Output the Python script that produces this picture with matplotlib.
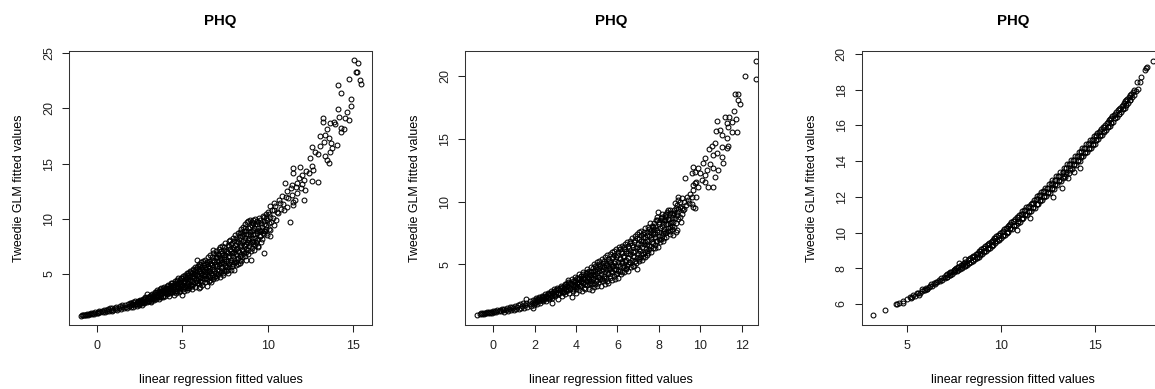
# -*- coding: utf-8 -*-
# Description: PHQ - Tweedie GLM fitted values vs. linear regression fitted values
# ============================================

# Imports
import matplotlib
matplotlib.use("Agg")
import matplotlib.pyplot as plt
# ============================================

# Data
# ============================================
# Panel 1: (linear regression fitted, Tweedie GLM fitted)
phq1_pts = [
    (-0.92, 1.24), (-0.85, 1.28), (-0.8, 1.3), (-0.72, 1.27), (-0.68, 1.33), (-0.6, 1.3), (-0.58, 1.38),
    (-0.5, 1.32), (-0.45, 1.42), (-0.4, 1.36), (-0.35, 1.45), (-0.28, 1.38), (-0.2, 1.46), (-0.15, 1.41),
    (-0.1, 1.52), (0.0, 1.45), (0.05, 1.58), (0.1, 1.5), (0.15, 1.62), (0.22, 1.52), (0.3, 1.66),
    (0.35, 1.57), (0.4, 1.72), (0.48, 1.6), (0.55, 1.75), (0.6, 1.66), (0.65, 1.82), (0.72, 1.68),
    (0.78, 1.88), (0.85, 1.76), (0.9, 1.92), (0.88, 1.64), (0.98, 1.72), (1.05, 1.95), (1.1, 1.84),
    (1.15, 2.02), (1.2, 1.78), (1.28, 1.9), (1.35, 2.1), (1.4, 1.82), (1.45, 2.0), (1.5, 2.18),
    (1.58, 1.95), (1.65, 2.22), (1.7, 2.05), (1.75, 1.9), (1.8, 2.3), (1.88, 2.12), (1.95, 2.38),
    (2.0, 2.0), (2.05, 2.25), (2.1, 2.45), (2.18, 2.15), (2.22, 2.52), (2.28, 2.32), (2.35, 2.08),
    (2.4, 2.6), (2.42, 2.42), (2.48, 2.25), (2.52, 2.68), (2.58, 2.48), (2.62, 2.2), (2.68, 2.78),
    (2.72, 2.55), (2.78, 2.35), (2.82, 2.9), (2.88, 2.65), (2.92, 3.2), (2.95, 2.42), (3.0, 2.85),
    (3.05, 2.55), (3.1, 3.05), (3.15, 2.75), (3.2, 2.45), (3.25, 3.2), (3.28, 2.92), (3.32, 2.62),
    (3.38, 3.35), (3.42, 3.05), (3.48, 2.75), (3.5, 3.55), (3.55, 3.2), (3.58, 2.9), (3.62, 2.7),
    (3.66, 3.45), (3.7, 3.1), (3.75, 3.7), (3.78, 2.88), (3.82, 3.3), (3.85, 3.55), (3.9, 2.95),
    (3.95, 3.8), (4.0, 3.0), (4.02, 3.42), (4.05, 3.62), (4.1, 3.15), (4.12, 3.9), (4.15, 3.3),
    (4.2, 3.05), (4.25, 3.55), (4.28, 4.05), (4.29, 3.24), (4.32, 3.8), (4.38, 3.35), (4.4, 4.2),
    (4.45, 3.65), (4.5, 3.1), (4.52, 3.95), (4.55, 3.45), (4.6, 4.35), (4.62, 3.7), (4.65, 3.25),
    (4.7, 4.1), (4.72, 4.5), (4.75, 3.85), (4.8, 3.35), (4.85, 4.25), (4.88, 3.6), (4.92, 4.65),
    (4.97, 3.1), (5.0, 4.0), (5.02, 3.8), (5.05, 4.8), (5.08, 4.4), (5.1, 3.45), (5.12, 4.15),
    (5.15, 4.95), (5.2, 3.7), (5.22, 4.55), (5.26, 3.55), (5.28, 4.3), (5.32, 5.05), (5.35, 3.95),
    (5.38, 4.75), (5.42, 3.75), (5.45, 4.5), (5.48, 5.2), (5.5, 4.05), (5.55, 4.85), (5.58, 3.6),
    (5.6, 5.35), (5.62, 4.3), (5.68, 5.0), (5.7, 4.65), (5.72, 5.6), (5.75, 3.85), (5.78, 4.45),
    (5.8, 5.5), (5.85, 6.27), (5.85, 4.15), (5.88, 4.9), (5.9, 5.75), (5.92, 4.6), (5.95, 3.75),
    (5.98, 5.25), (6.0, 5.95), (6.04, 3.85), (6.05, 4.4), (6.08, 5.1), (6.1, 6.1), (6.12, 4.75),
    (6.15, 5.6), (6.18, 4.05), (6.2, 5.35), (6.22, 6.2), (6.25, 4.95), (6.28, 5.8), (6.3, 4.25),
    (6.32, 5.15), (6.35, 6.3), (6.38, 4.6), (6.4, 5.5), (6.43, 3.94), (6.45, 6.05), (6.48, 4.85),
    (6.5, 5.75), (6.52, 6.5), (6.55, 4.35), (6.58, 5.3), (6.6, 4.7), (6.62, 5.9), (6.65, 6.7),
    (6.68, 5.05), (6.7, 4.3), (6.72, 6.25), (6.75, 5.5), (6.78, 4.55), (6.8, 6.9), (6.82, 7.18),
    (6.85, 5.25), (6.88, 6.05), (6.9, 4.85), (6.92, 5.7), (6.95, 6.5), (6.98, 7.05), (7.0, 4.6),
    (7.02, 5.4), (7.05, 6.2), (7.08, 6.85), (7.1, 5.0), (7.12, 5.95), (7.15, 7.3), (7.18, 4.75),
    (7.2, 7.42), (7.22, 6.45), (7.25, 5.2), (7.28, 6.0), (7.3, 6.9), (7.32, 5.55), (7.35, 7.5),
    (7.38, 4.95), (7.4, 5.06), (7.42, 6.4), (7.45, 7.2), (7.48, 5.8), (7.5, 6.7), (7.52, 7.8),
    (7.55, 5.3), (7.58, 6.15), (7.6, 7.0), (7.62, 5.6), (7.65, 7.6), (7.68, 5.1), (7.7, 6.5),
    (7.72, 8.0), (7.75, 5.9), (7.78, 7.3), (7.8, 8.1), (7.82, 6.3), (7.85, 5.4), (7.88, 6.9),
    (7.9, 7.8), (7.92, 5.7), (7.95, 8.3), (7.98, 6.6), (8.0, 5.4), (8.02, 7.25), (8.05, 6.1),
    (8.08, 8.5), (8.1, 7.6), (8.12, 5.8), (8.15, 6.85), (8.18, 8.0), (8.2, 6.35), (8.22, 7.4),
    (8.25, 8.7), (8.28, 5.9), (8.3, 7.0), (8.32, 8.2), (8.35, 6.6), (8.38, 5.97), (8.38, 8.85),
    (8.4, 7.8), (8.42, 6.2), (8.45, 9.1), (8.48, 7.2), (8.5, 8.4), (8.52, 6.5), (8.55, 9.3),
    (8.58, 7.6), (8.6, 8.9), (8.62, 6.9), (8.65, 8.1), (8.68, 9.5), (8.7, 7.3), (8.72, 6.3),
    (8.75, 8.6), (8.78, 9.7), (8.8, 7.9), (8.82, 6.8), (8.85, 9.2), (8.87, 9.76), (8.9, 8.3),
    (8.92, 7.5), (8.95, 9.9), (8.98, 8.8), (9.0, 6.27), (9.02, 7.1), (9.05, 9.4), (9.08, 8.0),
    (9.1, 9.75), (9.12, 7.7), (9.15, 8.6), (9.16, 9.85), (9.2, 7.2), (9.22, 9.2), (9.25, 8.3),
    (9.28, 10.0), (9.3, 7.9), (9.35, 9.5), (9.38, 8.9), (9.4, 7.5), (9.45, 7.48), (9.48, 9.0),
    (9.5, 10.1), (9.52, 8.4), (9.55, 8.4), (9.58, 9.6), (9.6, 7.9), (9.65, 9.3), (9.7, 10.3),
    (9.72, 8.7), (9.75, 6.88), (9.75, 10.2), (9.78, 8.9), (9.8, 9.8), (9.85, 8.9), (9.88, 10.4),
    (9.9, 9.4), (9.94, 9.9), (9.98, 8.5), (10.0, 10.6), (10.05, 9.1), (10.1, 10.2), (10.14, 9.0),
    (10.14, 8.4), (10.14, 11.12), (10.2, 9.7), (10.23, 10.82),
    (10.3, 10.1), (10.35, 11.4), (10.43, 11.12), (10.5, 9.9), (10.55, 10.6), (10.62, 10.5),
    (10.65, 11.7), (10.72, 11.42), (10.8, 10.9), (10.82, 12.03), (10.9, 11.3), (10.92, 10.82),
    (11.0, 13.24), (11.05, 12.0), (11.1, 12.5), (11.15, 11.1), (11.2, 11.9), (11.3, 9.7),
    (11.35, 12.8), (11.4, 13.1), (11.4, 12.2), (11.45, 11.5), (11.5, 14.6), (11.5, 14.15),
    (11.5, 11.27), (11.6, 11.73), (11.65, 12.9), (11.7, 13.24), (11.7, 12.33), (11.8, 13.7),
    (11.89, 14.7), (11.95, 12.8), (11.99, 14.0), (11.99, 13.15), (12.09, 13.55), (12.09, 11.73),
    (12.18, 12.64), (12.25, 14.3), (12.38, 14.15), (12.48, 15.5), (12.57, 16.5), (12.57, 14.75),
    (12.57, 13.4), (12.67, 14.45), (12.77, 16.1), (12.96, 15.9), (12.96, 13.3), (13.06, 17.5),
    (13.06, 16.6), (13.2, 19.15), (13.2, 18.8), (13.26, 17.0), (13.35, 17.64), (13.35, 15.7),
    (13.45, 18.15), (13.45, 15.36), (13.55, 17.3), (13.55, 15.06), (13.65, 18.7), (13.65, 16.1),
    (13.68, 16.9), (13.74, 16.4), (13.84, 18.76), (13.94, 18.6), (14.04, 16.7), (14.13, 22.1),
    (14.13, 19.97), (14.19, 19.24), (14.27, 21.4), (14.27, 18.24), (14.27, 17.9), (14.46, 18.1),
    (14.52, 19.15), (14.62, 19.7), (14.72, 22.7), (14.72, 19.0), (14.85, 20.9), (14.85, 20.27),
    (15.05, 24.36), (15.17, 23.33), (15.2, 23.3), (15.3, 24.15), (15.36, 22.6), (15.44, 22.24),
]
# Panel 1, extra points filling the dense core of the band
phq1_core = [
    (2.03, 2.18), (2.03, 2.36), (2.13, 2.05), (2.13, 2.3), (2.33, 2.25), (2.33, 2.45), (2.45, 2.15),
    (2.45, 2.55), (2.55, 2.35), (2.55, 2.6), (2.65, 2.4), (2.65, 2.65), (2.75, 2.45), (2.75, 2.7),
    (2.85, 2.5), (2.85, 2.8), (2.97, 2.6), (2.97, 2.95), (3.07, 2.7), (3.07, 2.95), (3.17, 2.6),
    (3.17, 3.1), (3.27, 2.75), (3.27, 3.05), (3.37, 2.85), (3.37, 3.15), (3.47, 2.95), (3.47, 3.35),
    (3.57, 3.05), (3.57, 3.4), (3.67, 2.95), (3.67, 3.25), (3.67, 3.6), (3.77, 3.15), (3.77, 3.45),
    (3.87, 3.05), (3.87, 3.4), (3.87, 3.7), (3.97, 3.25), (3.97, 3.55), (4.07, 3.3), (4.07, 3.75),
    (4.17, 3.45), (4.17, 3.75), (4.17, 4.0), (4.27, 3.4), (4.27, 3.7), (4.37, 3.55), (4.37, 3.95),
    (4.37, 4.15), (4.47, 3.35), (4.47, 3.8), (4.47, 4.05), (4.57, 3.6), (4.57, 4.2), (4.67, 3.5),
    (4.67, 3.95), (4.67, 4.35), (4.77, 3.7), (4.77, 4.15), (4.77, 4.6), (4.87, 3.5), (4.87, 3.9),
    (4.87, 4.45), (4.95, 3.75), (4.95, 4.2), (4.95, 4.6), (5.05, 3.6), (5.05, 4.25), (5.05, 4.6),
    (5.15, 3.85), (5.15, 4.4), (5.15, 4.7), (5.25, 4.0), (5.25, 4.7), (5.25, 5.1), (5.35, 3.75),
    (5.35, 4.2), (5.35, 4.55), (5.35, 4.95), (5.45, 4.05), (5.45, 4.7), (5.45, 5.3), (5.55, 3.9),
    (5.55, 4.35), (5.55, 5.1), (5.65, 4.1), (5.65, 4.8), (5.65, 5.45), (5.75, 4.25), (5.75, 5.0),
    (5.75, 5.3), (5.85, 4.4), (5.85, 5.15), (5.85, 5.6), (5.95, 4.1), (5.95, 4.8), (5.95, 5.45),
    (6.05, 4.6), (6.05, 5.3), (6.05, 5.8), (6.15, 4.3), (6.15, 4.95), (6.15, 5.45), (6.25, 4.55),
    (6.25, 5.25), (6.25, 6.0), (6.35, 4.8), (6.35, 5.6), (6.35, 5.0), (6.45, 4.55), (6.45, 5.2),
    (6.45, 5.9), (6.55, 5.0), (6.55, 5.55), (6.55, 6.2), (6.65, 4.5), (6.65, 5.3), (6.65, 6.0),
    (6.75, 4.9), (6.75, 5.8), (6.75, 6.5), (6.85, 5.5), (6.85, 6.3), (6.85, 4.7), (6.95, 5.1),
    (6.95, 5.9), (6.95, 6.8), (7.05, 4.85), (7.05, 5.7), (7.05, 6.5), (7.15, 5.3), (7.15, 6.15),
    (7.15, 6.7), (7.25, 5.6), (7.25, 6.3), (7.25, 7.05), (7.35, 5.4), (7.35, 6.05), (7.35, 6.7),
    (7.45, 5.25), (7.45, 6.0), (7.45, 6.5), (7.45, 7.45), (7.55, 5.7), (7.55, 6.4), (7.55, 7.1),
    (7.65, 5.4), (7.65, 6.2), (7.65, 6.9), (7.75, 5.65), (7.75, 6.6), (7.75, 7.5), (7.85, 6.05),
    (7.85, 7.1), (7.85, 7.7), (7.95, 5.9), (7.95, 6.9), (7.95, 7.45), (8.05, 6.35), (8.05, 7.0),
    (8.05, 7.95), (8.15, 6.1), (8.15, 7.3), (8.15, 8.3), (8.25, 6.45), (8.25, 7.05), (8.25, 7.9),
    (8.35, 6.3), (8.35, 7.5), (8.35, 8.45), (8.45, 6.8), (8.45, 7.6), (8.45, 8.7), (8.55, 7.1),
    (8.55, 8.0), (8.55, 8.6), (8.65, 6.6), (8.65, 7.5), (8.65, 8.3), (8.65, 9.2), (8.75, 7.0),
    (8.75, 7.7), (8.75, 8.9), (8.85, 7.2), (8.85, 8.1), (8.85, 8.6), (8.95, 7.8), (8.95, 8.5),
    (8.95, 9.3), (9.05, 7.4), (9.05, 8.3), (9.05, 8.9), (9.15, 7.9), (9.15, 9.0), (9.15, 9.6),
    (9.25, 7.6), (9.25, 8.6), (9.25, 9.5), (9.35, 8.1), (9.35, 8.7), (9.35, 9.8), (9.45, 8.2),
    (9.45, 9.2), (9.45, 9.7), (9.55, 8.9), (9.55, 9.9), (9.65, 8.2), (9.65, 9.0), (9.8, 8.6),
    (9.8, 9.5), (9.9, 9.1), (9.9, 10.1), (10.05, 9.6), (10.05, 10.4), (10.35, 9.4), (10.35, 10.8),
]

# Panel 2
phq2_pts = [
    (-0.8, 0.96), (-0.65, 1.02), (-0.6, 1.08), (-0.55, 1.04), (-0.5, 1.1), (-0.45, 1.05), (-0.4, 1.12),
    (-0.35, 1.08), (-0.3, 1.16), (-0.25, 1.1), (-0.2, 1.18), (-0.15, 1.12), (-0.1, 1.22), (-0.05, 1.14),
    (0.0, 1.25), (0.05, 1.18), (0.1, 1.3), (0.15, 1.2), (0.2, 1.32), (0.25, 1.25), (0.3, 1.38),
    (0.35, 1.26), (0.4, 1.42), (0.45, 1.32), (0.5, 1.46), (0.5, 1.22), (0.6, 1.35), (0.65, 1.5),
    (0.7, 1.28), (0.75, 1.42), (0.8, 1.58), (0.85, 1.38), (0.9, 1.62), (0.95, 1.48), (1.0, 1.35),
    (1.05, 1.7), (1.1, 1.45), (1.15, 1.6), (1.2, 1.75), (1.25, 1.42), (1.3, 1.82), (1.35, 1.55),
    (1.4, 1.7), (1.45, 1.88), (1.5, 1.5), (1.56, 2.23), (1.55, 1.75), (1.6, 1.95), (1.65, 1.6),
    (1.7, 1.85), (1.75, 2.05), (1.8, 1.68), (1.85, 1.95), (1.9, 2.15), (1.9, 1.55), (1.95, 1.78),
    (2.0, 2.0), (2.05, 2.3), (2.1, 1.85), (2.15, 2.12), (2.2, 2.4), (2.25, 1.95), (2.3, 2.22),
    (2.35, 2.5), (2.4, 2.05), (2.45, 2.35), (2.5, 2.62), (2.55, 2.1), (2.6, 2.45), (2.65, 2.75),
    (2.7, 2.25), (2.75, 2.58), (2.8, 2.85), (2.82, 1.94), (2.85, 2.35), (2.9, 2.7), (2.95, 3.0),
    (3.0, 2.45), (3.05, 2.82), (3.1, 3.15), (3.12, 2.25), (3.15, 2.6), (3.2, 2.95), (3.25, 3.3),
    (3.3, 2.5), (3.35, 2.78), (3.4, 3.1), (3.45, 3.45), (3.48, 2.6), (3.5, 2.9), (3.55, 3.25),
    (3.6, 3.62), (3.62, 3.75), (3.65, 2.7), (3.7, 3.05), (3.75, 3.4), (3.79, 2.41), (3.8, 3.8),
    (3.85, 2.85), (3.88, 3.2), (3.9, 3.6), (3.95, 4.0), (4.0, 2.75), (4.02, 3.05), (4.05, 3.4),
    (4.1, 3.8), (4.12, 4.2), (4.15, 2.95), (4.2, 3.3), (4.22, 3.65), (4.25, 4.05), (4.3, 2.85),
    (4.32, 3.5), (4.35, 4.41), (4.38, 3.15), (4.4, 3.9), (4.45, 3.05), (4.48, 3.7), (4.5, 4.3),
    (4.52, 3.35), (4.55, 4.6), (4.6, 3.95), (4.62, 3.0), (4.65, 3.55), (4.7, 4.8), (4.72, 4.15),
    (4.75, 2.95), (4.78, 3.45), (4.8, 3.85), (4.82, 4.5), (4.85, 5.0), (4.88, 3.2), (4.9, 4.25),
    (4.95, 3.65), (4.98, 4.75), (5.0, 3.3), (5.02, 5.15), (5.05, 4.0), (5.08, 3.5), (5.1, 4.5),
    (5.12, 5.3), (5.15, 3.8), (5.18, 4.85), (5.2, 3.25), (5.22, 4.25), (5.25, 5.45), (5.28, 3.65),
    (5.3, 4.65), (5.32, 5.1), (5.35, 3.95), (5.38, 3.45), (5.4, 5.6), (5.42, 4.4), (5.45, 4.95),
    (5.48, 3.7), (5.5, 5.75), (5.52, 4.2), (5.55, 3.5), (5.58, 5.3), (5.6, 4.7), (5.62, 3.9),
    (5.65, 5.85), (5.68, 4.45), (5.72, 6.0), (5.7, 5.05), (5.75, 3.75), (5.78, 4.9), (5.8, 5.55),
    (5.82, 4.1), (5.85, 6.1), (5.88, 3.85), (5.9, 5.25), (5.92, 4.6), (5.95, 6.25), (5.98, 4.3),
    (6.0, 5.75), (6.02, 4.95), (6.05, 3.95), (6.08, 6.35), (6.1, 5.4), (6.12, 4.5), (6.15, 6.0),
    (6.18, 4.2), (6.2, 5.1), (6.22, 6.45), (6.25, 4.75), (6.28, 5.65), (6.3, 4.35), (6.32, 6.2),
    (6.35, 5.3), (6.38, 6.6), (6.4, 4.6), (6.42, 5.9), (6.45, 4.9), (6.48, 6.75), (6.5, 5.5),
    (6.52, 4.5), (6.55, 6.3), (6.58, 5.15), (6.6, 6.9), (6.62, 5.8), (6.65, 4.75), (6.68, 6.55),
    (6.7, 5.35), (6.72, 7.1), (6.75, 6.0), (6.78, 4.85), (6.8, 6.8), (6.82, 5.6), (6.85, 7.25),
    (6.88, 5.1), (6.9, 6.3), (6.93, 4.6), (6.95, 7.4), (6.98, 5.9), (7.0, 6.6), (7.02, 5.25),
    (7.05, 7.55), (7.08, 6.1), (7.1, 5.6), (7.12, 6.9), (7.15, 7.7), (7.18, 5.35), (7.2, 6.4),
    (7.22, 7.2), (7.25, 5.85), (7.28, 7.6), (7.3, 6.65), (7.32, 5.55), (7.35, 7.9), (7.38, 6.2),
    (7.41, 5.74), (7.42, 7.35), (7.45, 6.9), (7.48, 8.0), (7.5, 5.9), (7.52, 6.5), (7.55, 7.6),
    (7.57, 8.27), (7.6, 7.05), (7.62, 6.0), (7.65, 8.1), (7.68, 6.75), (7.7, 7.4), (7.72, 6.3),
    (7.75, 8.3), (7.78, 7.8), (7.8, 6.55), (7.82, 7.15), (7.85, 8.5), (7.88, 6.9), (7.9, 7.6),
    (7.92, 8.8), (7.95, 6.4), (7.97, 9.2), (8.0, 7.3), (8.02, 8.2), (8.05, 6.8), (8.08, 7.9),
    (8.1, 8.7), (8.12, 7.05), (8.13, 8.54), (8.15, 9.0), (8.18, 7.5), (8.2, 8.3), (8.22, 6.9),
    (8.25, 7.8), (8.28, 8.9), (8.3, 7.47), (8.32, 8.5), (8.35, 7.2), (8.37, 8.8), (8.4, 9.2),
    (8.42, 7.7), (8.45, 8.2), (8.46, 9.33), (8.5, 8.6), (8.52, 7.4), (8.54, 8.0), (8.56, 9.1),
    (8.6, 8.4), (8.62, 9.07), (8.65, 7.8), (8.68, 8.9), (8.7, 8.4), (8.7, 7.34), (8.74, 9.3),
    (8.78, 9.87), (8.8, 8.7), (8.82, 7.6), (8.86, 9.73), (8.86, 9.2), (8.86, 7.74), (8.9, 8.9),
    (8.94, 10.4), (8.94, 10.13), (9.0, 9.6), (9.05, 8.4), (9.1, 10.27), (9.12, 9.0), (9.18, 9.33),
    (9.2, 10.0), (9.26, 11.86), (9.3, 9.7), (9.34, 10.4), (9.4, 10.1),
    (9.45, 9.9), (9.5, 10.6), (9.58, 10.4), (9.58, 12.26), (9.6, 9.8), (9.66, 12.79), (9.66, 11.33),
    (9.66, 10.93), (9.66, 9.6), (9.74, 12.39), (9.74, 11.47), (9.74, 9.47), (9.82, 11.6),
    (9.82, 10.4), (9.9, 12.66), (9.9, 11.2), (9.98, 12.26), (10.07, 11.73), (10.15, 13.06),
    (10.23, 13.46), (10.23, 12.13), (10.23, 11.6), (10.31, 12.53), (10.39, 11.2), (10.42, 14.18),
    (10.47, 12.98), (10.55, 14.44), (10.63, 13.72), (10.63, 12.66), (10.63, 11.2), (10.71, 14.65),
    (10.71, 12.0), (10.76, 15.66), (10.79, 13.86), (10.82, 16.46), (10.87, 12.53), (10.95, 15.7),
    (11.03, 15.3), (11.03, 13.59), (11.07, 14.39), (11.11, 13.11), (11.2, 16.78), (11.28, 16.25),
    (11.28, 15.05), (11.28, 14.3), (11.36, 15.98), (11.36, 14.47), (11.39, 16.73), (11.52, 16.38),
    (11.52, 15.58), (11.65, 17.23), (11.68, 18.56), (11.72, 16.6), (11.76, 15.58), (11.84, 18.56),
    (11.84, 18.11), (11.92, 17.79), (12.16, 20.05), (12.69, 21.22), (12.69, 19.79),
]
# Panel 2, extra points filling the dense core of the band
phq2_core = [
    (2.03, 1.92), (2.03, 2.15), (2.13, 2.05), (2.13, 2.25), (2.23, 2.1), (2.23, 2.3), (2.33, 2.15),
    (2.33, 2.38), (2.43, 2.2), (2.43, 2.48), (2.53, 2.3), (2.53, 2.5), (2.63, 2.35), (2.63, 2.6),
    (2.73, 2.42), (2.73, 2.7), (2.83, 2.5), (2.83, 2.75), (2.93, 2.55), (2.93, 2.85), (3.03, 2.6),
    (3.03, 2.95), (3.13, 2.75), (3.13, 3.0), (3.23, 2.7), (3.23, 3.1), (3.33, 2.85), (3.33, 3.2),
    (3.43, 2.8), (3.43, 3.0), (3.43, 3.3), (3.53, 3.0), (3.53, 3.4), (3.63, 2.95), (3.63, 3.2),
    (3.63, 3.5), (3.73, 3.1), (3.73, 3.55), (3.83, 3.05), (3.83, 3.35), (3.83, 3.65), (3.93, 3.25),
    (3.93, 3.45), (3.93, 3.75), (4.03, 3.2), (4.03, 3.55), (4.03, 3.9), (4.13, 3.4), (4.13, 3.6),
    (4.13, 3.95), (4.23, 3.35), (4.23, 3.8), (4.23, 4.1), (4.33, 3.6), (4.33, 3.95), (4.33, 4.2),
    (4.43, 3.45), (4.43, 3.85), (4.43, 4.15), (4.53, 3.65), (4.53, 4.0), (4.53, 4.4), (4.63, 3.45),
    (4.63, 3.8), (4.63, 4.25), (4.63, 4.5), (4.73, 3.65), (4.73, 4.0), (4.73, 4.4), (4.83, 3.9),
    (4.83, 4.25), (4.83, 4.7), (4.93, 3.45), (4.93, 4.05), (4.93, 4.5), (4.93, 4.9), (5.03, 3.75),
    (5.03, 4.3), (5.03, 4.65), (5.13, 4.0), (5.13, 4.7), (5.13, 5.0), (5.23, 3.85), (5.23, 4.45),
    (5.23, 4.9), (5.33, 4.1), (5.33, 4.8), (5.33, 5.25), (5.43, 3.9), (5.43, 4.6), (5.43, 5.1),
    (5.53, 4.3), (5.53, 4.9), (5.53, 5.45), (5.63, 4.1), (5.63, 4.6), (5.63, 5.2), (5.73, 4.35),
    (5.73, 4.85), (5.73, 5.5), (5.83, 4.6), (5.83, 5.1), (5.83, 5.75), (5.93, 4.2), (5.93, 4.85),
    (5.93, 5.55), (6.03, 4.5), (6.03, 5.2), (6.03, 6.0), (6.13, 4.85), (6.13, 5.5), (6.13, 6.2),
    (6.23, 4.4), (6.23, 5.3), (6.23, 5.9), (6.33, 4.9), (6.33, 5.6), (6.33, 6.35), (6.43, 4.7),
    (6.43, 5.35), (6.43, 6.1), (6.53, 5.0), (6.53, 5.9), (6.53, 6.5), (6.63, 5.2), (6.63, 6.1),
    (6.63, 6.7), (6.73, 4.9), (6.73, 5.65), (6.73, 6.4), (6.83, 5.3), (6.83, 6.05), (6.83, 6.95),
    (6.93, 5.5), (6.93, 6.4), (6.93, 7.1), (7.03, 5.45), (7.03, 6.25), (7.03, 7.05), (7.13, 5.8),
    (7.13, 6.6), (7.13, 7.35), (7.23, 5.6), (7.23, 6.9), (7.23, 7.45), (7.33, 6.0), (7.33, 6.8),
    (7.33, 7.2), (7.43, 6.1), (7.43, 6.6), (7.43, 7.6), (7.53, 6.25), (7.53, 7.3), (7.53, 7.85),
    (7.63, 6.5), (7.63, 7.2), (7.63, 7.75), (7.73, 6.7), (7.73, 7.6), (7.73, 8.0), (7.83, 6.3),
    (7.83, 7.4), (7.83, 8.1), (7.93, 6.9), (7.93, 7.75), (7.93, 8.5), (8.03, 7.0), (8.03, 7.6),
    (8.03, 8.4), (8.13, 7.3), (8.13, 8.1), (8.13, 8.8), (8.23, 7.1), (8.23, 7.7), (8.23, 8.55),
    (8.33, 7.6), (8.33, 8.2), (8.33, 9.0), (8.43, 7.9), (8.43, 8.6), (8.53, 7.7), (8.53, 8.3),
    (8.53, 9.3), (8.63, 8.1), (8.63, 8.7), (8.73, 8.0), (8.73, 9.1), (8.83, 8.3), (8.83, 9.5),
    (8.93, 8.6), (8.93, 9.4), (9.03, 8.8), (9.03, 10.0), (9.13, 9.5), (9.23, 9.4),
]

# Panel 3
phq3_pts = [
    (3.15, 5.38), (3.81, 5.66), (4.4, 5.98), (4.45, 6.0), (4.57, 6.04), (4.75, 6.07), (4.79, 6.19),
    (4.96, 6.28), (5.14, 6.41), (5.23, 6.41), (5.32, 6.5), (5.2, 6.35), (5.4, 6.45), (5.5, 6.6),
    (5.59, 6.6), (5.68, 6.63), (5.77, 6.82), (5.89, 6.78), (5.6, 6.52), (5.8, 6.7), (5.95, 6.8),
    (6.04, 6.82), (6.0, 6.92), (6.07, 6.86), (6.13, 6.97), (6.2, 6.98), (6.27, 7.1), (6.33, 7.02),
    (6.4, 7.18), (6.47, 7.1), (6.53, 7.24), (6.6, 7.22), (6.67, 7.34), (6.73, 7.28), (6.8, 7.45),
    (6.87, 7.36), (6.93, 7.5), (7.0, 7.48), (7.07, 7.62), (7.13, 7.52), (7.2, 7.72), (7.27, 7.6),
    (7.33, 7.8), (7.4, 7.7), (7.47, 7.9), (7.53, 7.82), (7.55, 7.95), (7.6, 8.02), (7.67, 7.85),
    (7.73, 8.05), (7.78, 8.31), (7.8, 7.96), (7.87, 8.18), (7.93, 8.05), (7.95, 8.22), (8.0, 8.3),
    (8.07, 8.1), (8.09, 8.52), (8.13, 8.25), (8.2, 8.2), (8.25, 8.45), (8.3, 8.32), (8.35, 8.55),
    (8.4, 8.35), (8.45, 8.62), (8.5, 8.48), (8.55, 8.7), (8.6, 8.5), (8.65, 8.78), (8.7, 8.62),
    (8.75, 8.85), (8.8, 8.65), (8.85, 8.95), (8.9, 8.78), (8.95, 9.05), (9.0, 8.8), (9.05, 9.12),
    (9.1, 8.95), (9.15, 9.25), (9.2, 8.98), (9.25, 9.3), (9.3, 9.15), (9.35, 9.42), (9.4, 9.15),
    (9.45, 9.48), (9.5, 9.3), (9.55, 9.6), (9.6, 9.32), (9.65, 9.68), (9.7, 9.5), (9.75, 9.78),
    (9.8, 9.5), (9.85, 9.85), (9.9, 9.66), (9.95, 9.98), (10.0, 9.68), (10.05, 10.05), (10.1, 9.85),
    (10.15, 10.18), (10.2, 9.86), (10.25, 10.25), (10.3, 10.05), (10.35, 10.38), (10.4, 10.03),
    (10.45, 10.45), (10.5, 10.25), (10.55, 10.6), (10.6, 10.22), (10.65, 10.65), (10.7, 10.45),
    (10.75, 10.78), (10.8, 10.42), (10.85, 10.14), (10.88, 10.85), (10.92, 10.62), (10.95, 11.0),
    (11.0, 10.6), (11.05, 11.05), (11.1, 10.82), (11.15, 11.2), (11.2, 10.8), (11.25, 11.25),
    (11.3, 11.02), (11.35, 11.42), (11.4, 11.0), (11.45, 11.45), (11.5, 11.22), (11.56, 10.8),
    (11.58, 11.62), (11.6, 11.2), (11.65, 11.66), (11.7, 11.42), (11.75, 11.85), (11.8, 11.4),
    (11.85, 11.88), (11.9, 11.62), (11.95, 12.05), (12.0, 11.6), (12.05, 12.08), (12.1, 11.85),
    (12.15, 12.28), (12.2, 11.82), (12.25, 12.3), (12.3, 12.06), (12.35, 12.5), (12.4, 12.02),
    (12.45, 12.52), (12.5, 12.28), (12.55, 12.72), (12.6, 12.22), (12.65, 12.75), (12.7, 12.48),
    (12.75, 12.95), (12.8, 12.0), (12.82, 12.45), (12.86, 12.95), (12.9, 12.7), (12.95, 13.15),
    (13.0, 12.66), (13.05, 13.18), (13.1, 12.92), (13.15, 13.38), (13.2, 12.88), (13.26, 12.48),
    (13.3, 13.4), (13.35, 13.14), (13.38, 13.6), (13.4, 13.1), (13.45, 13.62), (13.5, 13.37),
    (13.55, 13.82), (13.6, 13.04), (13.62, 13.32), (13.66, 13.85), (13.7, 13.6), (13.75, 14.05),
    (13.8, 13.55), (13.85, 14.08), (13.91, 13.41), (13.92, 13.82), (13.95, 14.28), (14.0, 13.8),
    (14.05, 14.3), (14.1, 14.05), (14.15, 14.5), (14.2, 14.02), (14.23, 13.6), (14.25, 14.52),
    (14.3, 14.28), (14.35, 14.72), (14.4, 14.26), (14.45, 14.75), (14.5, 14.51), (14.55, 14.95),
    (14.6, 14.5), (14.65, 14.98), (14.7, 14.74), (14.75, 15.18), (14.8, 14.74), (14.85, 15.2),
    (14.9, 14.97), (14.95, 15.4), (15.0, 14.98), (15.05, 15.42), (15.1, 15.2), (15.15, 15.6),
    (15.2, 15.24), (15.25, 15.66), (15.3, 15.44), (15.35, 15.82), (15.4, 15.48), (15.45, 15.9),
    (15.5, 15.68), (15.55, 16.05), (15.6, 15.74), (15.65, 16.12), (15.7, 15.92), (15.75, 16.28),
    (15.8, 15.98), (15.85, 16.36), (15.9, 16.16), (15.95, 16.52), (16.0, 16.22), (16.05, 16.6),
    (16.1, 16.4), (16.15, 16.76), (16.2, 16.48), (16.25, 16.85), (16.3, 16.65), (16.35, 17.0),
    (16.4, 16.74), (16.45, 17.1), (16.5, 16.9), (16.55, 17.26), (16.6, 17.0), (16.65, 17.36),
    (16.7, 17.15), (16.75, 17.5), (16.8, 17.28), (16.85, 17.62), (16.9, 17.42), (16.95, 17.75),
    (17.0, 17.58), (17.05, 17.88), (17.09, 17.98), (17.12, 17.72), (17.2, 17.92), (17.27, 18.45),
    (17.3, 18.05), (17.45, 18.45), (17.5, 18.7), (17.71, 19.1), (17.8, 19.29), (17.75, 19.2),
    (18.12, 19.62),
]
# Panel 3, extra points filling the dense core of the band
phq3_core = [
    (7.1, 7.5), (7.1, 7.66), (7.3, 7.64), (7.3, 7.78), (7.5, 7.78), (7.5, 7.92), (7.7, 7.9),
    (7.7, 8.06), (7.9, 8.02), (7.9, 8.2), (8.1, 8.15), (8.1, 8.35), (8.3, 8.28), (8.3, 8.5),
    (8.5, 8.42), (8.5, 8.66), (8.7, 8.58), (8.7, 8.82), (8.9, 8.74), (8.9, 8.98), (9.1, 8.9),
    (9.1, 9.16), (9.3, 9.08), (9.3, 9.35), (9.5, 9.25), (9.5, 9.52), (9.7, 9.44), (9.7, 9.7),
    (9.9, 9.6), (9.9, 9.88), (10.1, 9.8), (10.1, 10.08), (10.3, 9.98), (10.3, 10.28), (10.5, 10.18),
    (10.5, 10.46), (10.7, 10.36), (10.7, 10.66), (10.9, 10.56), (10.9, 10.86), (11.1, 10.76),
    (11.1, 11.06), (11.3, 10.96), (11.3, 11.28), (11.5, 11.16), (11.5, 11.46), (11.7, 11.36),
    (11.7, 11.68), (11.9, 11.58), (11.9, 11.9), (12.1, 11.78), (12.1, 12.1), (12.3, 12.0),
    (12.3, 12.3), (12.5, 12.2), (12.5, 12.52), (12.7, 12.42), (12.7, 12.74), (12.9, 12.64),
    (12.9, 12.96), (13.1, 12.86), (13.1, 13.18), (13.3, 13.08), (13.3, 13.4), (13.5, 13.3),
    (13.5, 13.62), (13.7, 13.52), (13.7, 13.84), (13.9, 13.76), (13.9, 14.08), (14.1, 14.0),
    (14.1, 14.3), (14.3, 14.22), (14.3, 14.54), (14.5, 14.46), (14.5, 14.76), (14.7, 14.7),
    (14.7, 15.0), (14.9, 14.92), (14.9, 15.22), (15.1, 15.18), (15.1, 15.46), (15.3, 15.42),
    (15.3, 15.7), (15.5, 15.66), (15.5, 15.94), (15.7, 15.9), (15.7, 16.18), (15.9, 16.14),
    (15.9, 16.42), (16.1, 16.4), (16.1, 16.66), (16.3, 16.66), (16.3, 16.9), (16.5, 16.9),
    (16.5, 17.14), (16.7, 17.16), (16.7, 17.4), (16.9, 17.45), (16.9, 17.68),
]

# Axis ticks and limits per panel
x_ticks = [[0, 5, 10, 15], [0, 2, 4, 6, 8, 10, 12], [5, 10, 15]]
y_ticks = [[5, 10, 15, 20, 25], [5, 10, 15, 20], [6, 8, 10, 12, 14, 16, 18, 20]]
x_lims = [(-1.62, 16.09), (-1.37, 12.78), (2.56, 18.72)]
y_lims = [(0.38, 25.21), (0.16, 22.05), (4.82, 20.17)]

title = "PHQ"
x_label = "linear regression fitted values"
y_label = "Tweedie GLM fitted values"
# ============================================

# Plotting Configuration
plt.rc('font', family=['Liberation Sans', 'DejaVu Sans'], size=9)

W, H = 1155, 389
# panel rectangles in pixels: left, top, right, bottom
panel_px = [(69, 51, 372, 325), (465, 50.7, 757.7, 325), (861.7, 51, 1164.2, 325)]
# =========================================================================


def main():
    fig = plt.figure(figsize=(W / 100, H / 100), dpi=100)
    panels = [phq1_pts + phq1_core, phq2_pts + phq2_core, phq3_pts + phq3_core]

    for i, pts in enumerate(panels):
        l, t, r, b = panel_px[i]
        ax = fig.add_axes([l / W, (H - b) / H, (r - l) / W, (b - t) / H])
        xs = [p[0] for p in pts]
        ys = [p[1] for p in pts]
        ax.plot(xs, ys, linestyle='none', marker='o', markersize=3.5,
                markerfacecolor='none', markeredgecolor='black', markeredgewidth=0.75)

        ax.set_xlim(x_lims[i])
        ax.set_ylim(y_lims[i])
        ax.set_xticks(x_ticks[i])
        ax.set_yticks(y_ticks[i])
        ax.tick_params(direction='out', length=5, width=0.75, colors='#222222',
                       labelsize=9, top=False, right=False)
        ax.tick_params(axis='x', pad=6)
        ax.tick_params(axis='y', pad=5)
        for lab in ax.get_yticklabels():
            lab.set_rotation(90)
            lab.set_va('center')
        for s in ax.spines.values():
            s.set_linewidth(0.75)
            s.set_color('#333333')

        w_px = r - l
        h_px = b - t
        ax.set_xlabel(x_label, fontsize=9)
        ax.xaxis.set_label_coords(0.5, -55 / h_px)
        ax.xaxis.label.set_va('center')
        ax.set_ylabel(y_label, fontsize=9)
        ax.yaxis.set_label_coords(-50 / w_px, 0.5)
        ax.yaxis.label.set_va('center')
        ax.text(0.5, 1 + 30 / h_px, title, transform=ax.transAxes, ha='center',
                va='center', fontsize=10.8, fontweight='bold')

    fig.savefig("out.png", dpi=100)


# Main Execution
if __name__ == '__main__':
    main()
# =========================================================================
